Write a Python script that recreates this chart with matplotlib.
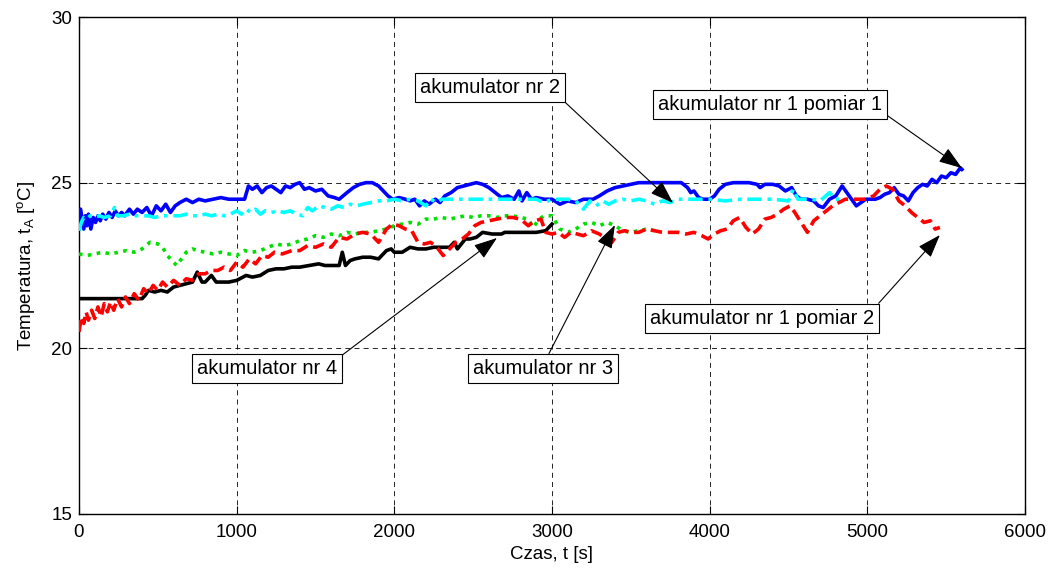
import matplotlib
matplotlib.use("Agg")
import matplotlib.pyplot as plt

plt.rcParams['font.family'] = ['Liberation Sans', 'DejaVu Sans']
plt.rcParams['mathtext.fontset'] = 'custom'
plt.rcParams['mathtext.rm'] = 'Liberation Sans'
plt.rcParams['mathtext.it'] = 'Liberation Sans:italic'

# ---- data (time in s, temperature in degC) ----
blue_t = [0, 10, 20, 30, 40, 50, 60, 75, 90, 105, 120, 135, 150, 170, 190, 210, 230, 250, 270, 290,
          320, 345, 370, 400, 430, 460, 490, 520, 550, 580, 610, 640, 680, 720, 760, 800, 850, 900,
          950, 1000, 1050, 1075, 1100, 1130, 1160, 1190, 1220, 1250, 1280, 1310, 1340, 1370, 1400,
          1430, 1460, 1500, 1540, 1580, 1620, 1650, 1700, 1740, 1780, 1820, 1860, 1900, 1930, 1960,
          1990, 2030, 2070, 2100, 2130, 2160, 2190, 2220, 2260, 2290, 2320, 2360, 2400, 2440, 2480,
          2520, 2560, 2600, 2640, 2680, 2720, 2760, 2790, 2810, 2840, 2870, 2900, 2950, 3000, 3050,
          3100, 3150, 3200, 3260, 3300, 3350, 3400, 3450, 3500, 3550, 3650, 3750, 3820, 3860, 3880,
          3900, 3930, 3960, 4000, 4030, 4060, 4100, 4150, 4250, 4300, 4320, 4350, 4400, 4440, 4480,
          4520, 4550, 4580, 4620, 4660, 4690, 4720, 4760, 4800, 4840, 4870, 4900, 4930, 4960, 4990,
          5050, 5080, 5110, 5140, 5170, 5200, 5230, 5260, 5290, 5320, 5350, 5380, 5410, 5440, 5470,
          5500, 5530, 5560, 5590, 5600]
blue_T = [23.6, 24.2, 23.9, 23.6, 24.0, 23.7, 24.05, 23.6, 23.95, 23.8, 24.0, 23.85, 24.05, 23.9, 24.1,
          23.95, 24.15, 24.0, 24.1, 24.0, 24.2, 24.05, 24.2, 24.1, 24.25, 24.0, 24.3, 24.15, 24.35,
          24.1, 24.3, 24.4, 24.5, 24.4, 24.5, 24.45, 24.5, 24.55, 24.5, 24.5, 24.5, 24.9, 24.8, 24.9,
          24.7, 24.85, 24.9, 24.8, 24.7, 24.9, 24.85, 24.95, 25.0, 24.8, 24.85, 24.75, 24.8, 24.6,
          24.55, 24.5, 24.7, 24.85, 24.95, 25.0, 25.0, 24.9, 24.75, 24.6, 24.5, 24.55, 24.5, 24.45,
          24.5, 24.3, 24.45, 24.35, 24.5, 24.4, 24.6, 24.7, 24.85, 24.9, 24.95, 25.0, 24.95, 24.85,
          24.7, 24.55, 24.6, 24.5, 24.75, 24.45, 24.7, 24.5, 24.55, 24.5, 24.5, 24.35, 24.45, 24.4,
          24.5, 24.5, 24.6, 24.75, 24.85, 24.9, 24.95, 25.0, 25.0, 25.0, 25.0, 24.85, 24.7, 24.75,
          24.55, 24.5, 24.5, 24.6, 24.8, 24.95, 25.0, 25.0, 24.95, 24.85, 24.95, 24.95, 24.9, 24.75,
          24.85, 24.6, 24.5, 24.5, 24.45, 24.3, 24.25, 24.5, 24.6, 24.9, 24.7, 24.5, 24.3, 24.4,
          24.5, 24.5, 24.55, 24.65, 24.7, 24.85, 24.65, 24.6, 24.45, 24.7, 24.85, 24.95, 24.9, 25.1,
          25.0, 25.2, 25.15, 25.3, 25.25, 25.45, 25.4]

cyan_t = [0, 15, 30, 50, 70, 100, 130, 160, 200, 225, 245, 280, 320, 360, 400, 440, 480, 520, 560,
          600, 640, 680, 720, 760, 800, 840, 880, 920, 960, 1000, 1030, 1060, 1090, 1120, 1150,
          1180, 1220, 1260, 1300, 1340, 1380, 1420, 1450, 1480, 1520, 1560, 1600, 1640, 1680,
          1720, 1760, 1800, 1850, 1900, 1950, 2000, 2050, 2100, 2150, 2200, 2230, 2270, 2300,
          2400, 2500, 2600, 2700, 2800, 2900, 2950, 3000, 3100, 3150, 3200, 3240, 3280, 3320,
          3360, 3400, 3450, 3500, 3550, 3600, 3650, 3700, 3750, 3800, 3900, 4000, 4100, 4200,
          4300, 4400, 4500, 4530, 4560, 4600, 4650, 4700, 4760, 4800, 4860]
cyan_T = [23.55, 23.8, 23.95, 23.9, 24.0, 23.95, 24.0, 23.95, 24.0, 24.25, 24.0, 24.0, 24.05, 24.0,
          24.0, 24.0, 23.95, 24.0, 24.0, 24.0, 24.0, 24.05, 24.0, 24.0, 24.05, 24.0, 24.05, 24.0,
          24.05, 24.15, 24.05, 24.2, 24.1, 24.2, 24.05, 24.15, 24.1, 24.15, 24.1, 24.15, 24.05,
          24.0, 24.25, 24.15, 24.3, 24.25, 24.2, 24.3, 24.25, 24.35, 24.3, 24.35, 24.4, 24.45,
          24.45, 24.5, 24.45, 24.5, 24.45, 24.3, 24.5, 24.4, 24.5, 24.5, 24.5, 24.5, 24.5, 24.5,
          24.5, 24.4, 24.5, 24.5, 24.45, 24.2, 24.45, 24.3, 24.45, 24.35, 24.45, 24.5, 24.45,
          24.5, 24.45, 24.35, 24.45, 24.4, 24.5, 24.5, 24.5, 24.45, 24.5, 24.5, 24.5, 24.45,
          24.8, 24.5, 24.5, 24.5, 24.45, 24.7, 24.5, 24.5]

green_t = [0, 50, 100, 150, 200, 250, 300, 350, 400, 450, 500, 530, 560, 600, 620, 650, 680, 720,
           750, 800, 850, 900, 950, 1000, 1050, 1100, 1150, 1200, 1250, 1300, 1350, 1400, 1450,
           1500, 1550, 1600, 1650, 1700, 1750, 1800, 1850, 1900, 1950, 2000, 2050, 2100, 2150,
           2200, 2250, 2300, 2350, 2400, 2450, 2500, 2550, 2600, 2650, 2700, 2750, 2800, 2850,
           2880, 2920, 2950, 3000, 3050, 3100, 3150, 3200, 3250, 3300, 3350, 3400, 3450, 3500,
           3550, 3600, 3650]
green_T = [22.85, 22.8, 22.85, 22.9, 22.85, 22.9, 22.95, 22.9, 23.0, 23.2, 23.15, 23.05, 22.8, 22.6,
           22.5, 22.7, 22.9, 23.0, 22.95, 22.9, 22.85, 22.9, 22.85, 22.8, 22.95, 22.9, 22.95,
           23.05, 23.15, 23.1, 23.15, 23.25, 23.3, 23.4, 23.35, 23.45, 23.4, 23.5, 23.45, 23.5,
           23.5, 23.55, 23.6, 23.7, 23.75, 23.8, 23.75, 23.9, 23.9, 23.95, 23.9, 23.95, 24.0,
           23.95, 24.0, 24.0, 23.95, 24.0, 24.0, 23.95, 23.9, 23.65, 23.9, 24.0, 24.0, 23.6,
           23.5, 23.6, 23.75, 23.8, 23.7, 23.8, 23.7, 23.55, 23.5, 23.55, 23.6, 23.55]

black_t = [0, 100, 200, 300, 400, 420, 440, 480, 520, 560, 600, 640, 680, 720, 750, 780, 800,
           840, 870, 900, 950, 1000, 1060, 1100, 1150, 1200, 1250, 1300, 1350, 1400, 1460, 1520,
           1560, 1600, 1650, 1670, 1690, 1720, 1750, 1800, 1850, 1900, 1950, 1980, 2000, 2050,
           2100, 2150, 2200, 2250, 2300, 2350, 2380, 2400, 2450, 2480, 2520, 2560, 2620, 2680,
           2700, 2750, 2800, 2850, 2900, 2960, 3000]
black_T = [21.5, 21.5, 21.5, 21.5, 21.5, 21.6, 21.75, 21.7, 21.75, 21.7, 21.85, 21.9, 21.95, 22.0,
           22.3, 22.0, 22.0, 22.2, 22.0, 22.0, 22.0, 22.05, 22.2, 22.15, 22.2, 22.35, 22.4, 22.4,
           22.45, 22.45, 22.5, 22.55, 22.5, 22.5, 22.5, 22.9, 22.5, 22.65, 22.7, 22.75, 22.75,
           22.7, 22.95, 23.0, 22.9, 22.9, 23.05, 23.0, 23.0, 23.05, 23.05, 23.05, 23.2, 23.0,
           23.3, 23.3, 23.35, 23.5, 23.45, 23.45, 23.5, 23.5, 23.5, 23.5, 23.5, 23.55, 23.75]

red_t = [0, 15, 30, 45, 60, 80, 100, 120, 140, 160, 180, 200, 220, 245, 270, 295, 320, 350, 380,
         410, 440, 470, 500, 530, 560, 600, 640, 680, 720, 760, 800, 840, 880, 920, 960, 1000,
         1040, 1080, 1120, 1160, 1200, 1240, 1290, 1350, 1400, 1450, 1500, 1550, 1600, 1650, 1700,
         1750, 1800, 1850, 1900, 1950, 1990, 2030, 2070, 2110, 2150, 2190, 2230, 2270, 2310, 2350,
         2390, 2430, 2470, 2510, 2550, 2600, 2650, 2700, 2750, 2800, 2850, 2890, 2930, 2960, 3000,
         3040, 3080, 3120, 3160, 3200, 3250, 3300, 3350, 3380, 3420, 3460, 3500, 3550, 3600, 3650,
         3700, 3750, 3800, 3850, 3900, 3950, 3990, 4030, 4070, 4110, 4150, 4190, 4230, 4270, 4310,
         4350, 4390, 4430, 4470, 4510, 4540, 4580, 4620, 4660, 4700, 4740, 4780, 4820, 4860, 4920,
         4980, 5040, 5080, 5120, 5160, 5200, 5240, 5280, 5320, 5360, 5400, 5430, 5460]
red_T = [20.5, 20.95, 20.75, 21.1, 20.85, 21.15, 20.9, 21.25, 20.95, 21.35, 21.1, 21.4, 21.15, 21.5,
         21.25, 21.55, 21.35, 21.65, 21.45, 21.8, 21.65, 21.9, 21.75, 22.0, 21.85, 22.05, 21.9, 22.1,
         22.05, 22.25, 22.25, 22.35, 22.35, 22.45, 22.35, 22.6, 22.45, 22.7, 22.55, 22.8, 22.75, 22.9,
         22.85, 22.95, 22.95, 23.1, 23.05, 23.15, 23.05, 23.35, 23.3, 23.45, 23.5, 23.45, 23.2, 23.6,
         23.75, 23.7, 23.6, 23.55, 23.2, 23.15, 23.2, 23.05, 22.8, 23.0, 23.2, 23.3, 23.45, 23.7,
         23.8, 23.85, 23.9, 23.95, 23.95, 23.9, 23.7, 23.85, 23.9, 23.5, 23.45, 23.5, 23.35, 23.5,
         23.45, 23.4, 23.55, 23.45, 23.3, 23.2, 23.5, 23.55, 23.5, 23.5, 23.6, 23.55, 23.5, 23.5,
         23.5, 23.45, 23.5, 23.4, 23.3, 23.45, 23.55, 23.6, 23.85, 23.95, 23.65, 23.45, 23.6,
         23.9, 23.95, 24.05, 24.2, 24.3, 24.1, 23.8, 23.5, 23.85, 24.0, 24.15, 24.3, 24.4, 24.5,
         24.5, 24.5, 24.6, 24.8, 24.9, 24.8, 24.45, 24.3, 24.1, 23.95, 23.8, 23.85, 23.6, 23.65]

x_ticks = [0, 1000, 2000, 3000, 4000, 5000, 6000]
y_ticks = [15, 20, 25, 30]

# annotation labels, arrow targets (data) and box centres (data)
ann_texts = ['akumulator nr 2', 'akumulator nr 1 pomiar 1', 'akumulator nr 4',
             'akumulator nr 3', 'akumulator nr 1 pomiar 2']
ann_xy = [(3767, 24.39), (5600, 25.44), (2651, 23.33), (3399, 23.72), (5460, 23.42)]
ann_text_xy = [(2606, 27.86), (4382, 27.37), (1192, 19.39), (2945, 19.39), (4330, 20.91)]
ann_relpos = [(1.0, 0.0), (1.0, 0.1), (1.0, 1.0), (0.52, 1.0), (1.0, 1.0)]

# ---- figure ----
fig = plt.figure(figsize=(10.49, 5.68), dpi=100)
ax = fig.add_axes([79 / 1049, 1 - 514 / 568, (1025 - 79) / 1049, (514 - 17) / 568])

lw = 2.6
ax.plot(blue_t, blue_T, color='#0000ff', lw=lw, solid_joinstyle='round', zorder=3)
ax.plot(cyan_t, cyan_T, color='#00ffff', lw=lw, linestyle=(0, (4, 1.6, 1, 1.6)), zorder=3)
ax.plot(green_t, green_T, color='#00e000', lw=lw, linestyle=(0, (1, 1.5)), zorder=3)
ax.plot(black_t, black_T, color='black', lw=lw, solid_joinstyle='round', zorder=3)
ax.plot(red_t, red_T, color='#ff0000', lw=lw, linestyle=(0, (3.2, 1.6)), zorder=3)

ax.set_xlim(0, 6000)
ax.set_ylim(15, 30)
ax.set_xticks(x_ticks)
ax.set_yticks(y_ticks)
ax.tick_params(direction='in', length=6, width=0.8, labelsize=13.5, top=True, right=True)
ax.tick_params(axis='x', pad=7)
ax.tick_params(axis='y', pad=5)
ax.grid(True, color='black', linestyle=(0, (6, 5)), lw=0.6)
for s in ax.spines.values():
    s.set_linewidth(1.0)

ax.set_xlabel('Czas, t [s]', fontsize=13.5, labelpad=4)
ax.set_ylabel(r'Temperatura, t$_\mathrm{A}$ [$\mathrm{{}^{o}C}$]', fontsize=13.5, labelpad=10)

for txt, xy, xyt, rp in zip(ann_texts, ann_xy, ann_text_xy, ann_relpos):
    ax.annotate(txt, xy=xy, xytext=xyt, xycoords='data', textcoords='data',
                ha='center', va='center', fontsize=14.5, zorder=5,
                bbox=dict(boxstyle='square,pad=0.25', fc='white', ec='black', lw=0.8),
                arrowprops=dict(arrowstyle='-|>,head_length=1.0,head_width=0.35',
                                color='black', lw=0.8, relpos=rp, shrinkA=0, shrinkB=0))

fig.savefig('out.png', dpi=100)
